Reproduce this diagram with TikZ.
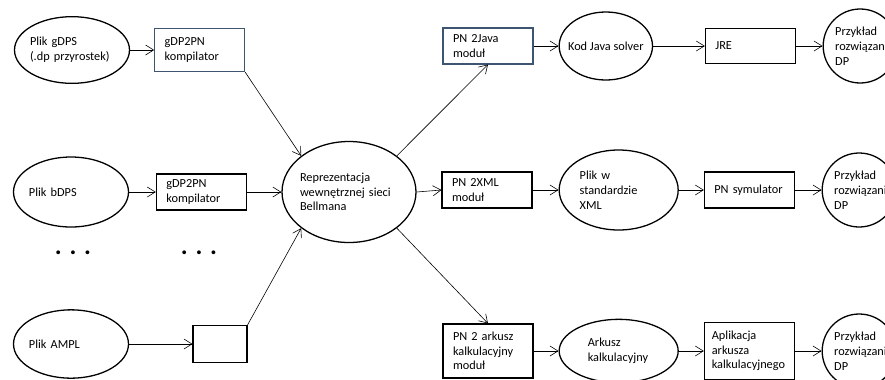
\documentclass[tikz,border=0pt]{standalone}
\usepackage{fontspec}
\setmainfont{Carlito}
\usetikzlibrary{arrows.meta,positioning,shapes.geometric}

\definecolor{slateline}{RGB}{62,84,112}

\begin{document}
\begin{tikzpicture}[
  x=0.3mm, y=-0.3mm,
  font=\fontsize{10.5}{12.6}\selectfont,
  oval/.style={draw, ellipse, line width=1.1pt, inner xsep=-2mm, inner ysep=0pt, align=left},
  box/.style={draw, line width=0.9pt, align=left, text width=2.1cm, inner xsep=0.3cm, inner ysep=0pt, minimum width=2.7cm, minimum height=1.08cm},
  result/.style={draw, circle, line width=1.1pt, inner sep=0pt, minimum size=2.22cm, text width=1.5cm, align=left},
  dots/.style={font=\fontsize{22}{24}\selectfont\bfseries},
  arrow/.style={-{Straight Barb[length=2.4mm, width=3mm]}, line width=0.5pt}
]
\useasboundingbox (0,0) rectangle (885,379);

% inputs
\node[oval, text width=2.52cm, minimum width=3.45cm, minimum height=2cm] (gdps) at (72,50) {Plik gDPS\\(.dp przyrostek)};
\node[oval, text width=2.52cm, minimum width=3.45cm, minimum height=2.1cm] (bdps) at (71,192) {Plik bDPS};
\node[oval, text width=2.52cm, minimum width=3.45cm, minimum height=2.05cm] (ampl) at (71,344) {Plik AMPL};

\node[box, draw=slateline, minimum height=1.3cm, right=7.2mm of gdps] (komp1) {gDP2PN\\kompilator};
\node[box, right=8mm of bdps] (komp2) {gDP2PN\\kompilator};
\node[box, text width=1cm, minimum width=1.62cm, minimum height=1.11cm, right=19mm of ampl] (komp3) {};

\node[dots] (dotsa) at (73,253) {. . .};
\node[dots] (dotsb) at (199,253) {. . .};

% Bellman network
\node[oval, text width=2.94cm, minimum width=4.02cm, minimum height=3.03cm] (bellman) at (349,192) {Reprezentacja\\wewnętrznej sieci\\Bellmana};

% Java
\node[box, draw=slateline] (java) at (488,46) {PN 2Java\\moduł};
\node[oval, minimum width=2.8cm, minimum height=2.04cm, right=7.5mm of java] (kod) {Kod Java solver};
\node[box, minimum height=1.05cm, right=15.5mm of kod] (jre) {JRE};
\node[result, right=8mm of jre] (wynik1) {Przykład\\rozwiązania\\DP};

% XML
\node[box] (xml) at (487,190) {PN 2XML\\moduł};
\node[oval, text width=2.34cm, minimum width=3.57cm, minimum height=2.4cm, right=7.8mm of xml] (plikxml) {Plik w\\standardzie\\XML};
\node[box, right=7.5mm of plikxml] (sym) {PN symulator};
\node[result, right=8mm of sym] (wynik2) {Przykład\\rozwiązania\\DP};

% arkusz
\node[box, minimum height=1.62cm] (ark) at (488,351) {PN 2 arkusz\\kalkulacyjny\\moduł};
\node[oval, text width=1.85cm, minimum width=3.57cm, minimum height=1.9cm, right=7.5mm of ark] (arkplik) {Arkusz\\kalkulacyjny};
\node[box, text width=2.25cm, inner xsep=0.225cm, minimum height=1.71cm, right=7.5mm of arkplik] (apl) {Aplikacja\\arkusza\\kalkulacyjnego};
\node[result, right=8mm of apl] (wynik3) {Przykład\\rozwiązania\\DP};

\draw[arrow] (gdps) -- (komp1);
\draw[arrow] (bdps) -- (komp2);
\draw[arrow] (ampl) -- (komp3);
\draw[arrow] (komp1.south east) -- (bellman.north west);
\draw[arrow] (komp2.east) -- (bellman.west);
\draw[arrow] (komp3.north east) -- (bellman.south west);

\draw[arrow] (bellman.north east) -- (java.south);
\draw[arrow] (bellman.east) -- (xml.west);
\draw[arrow] (bellman.south east) -- (ark.north);

\draw[arrow] (java) -- (kod);
\draw[arrow] (kod) -- (jre);
\draw[arrow] (jre) -- (wynik1);
\draw[arrow] (xml) -- (plikxml);
\draw[arrow] (plikxml) -- (sym);
\draw[arrow] (sym) -- (wynik2);
\draw[arrow] (ark) -- (arkplik);
\draw[arrow] (arkplik) -- (apl);
\draw[arrow] (apl) -- (wynik3);
\end{tikzpicture}
\end{document}
